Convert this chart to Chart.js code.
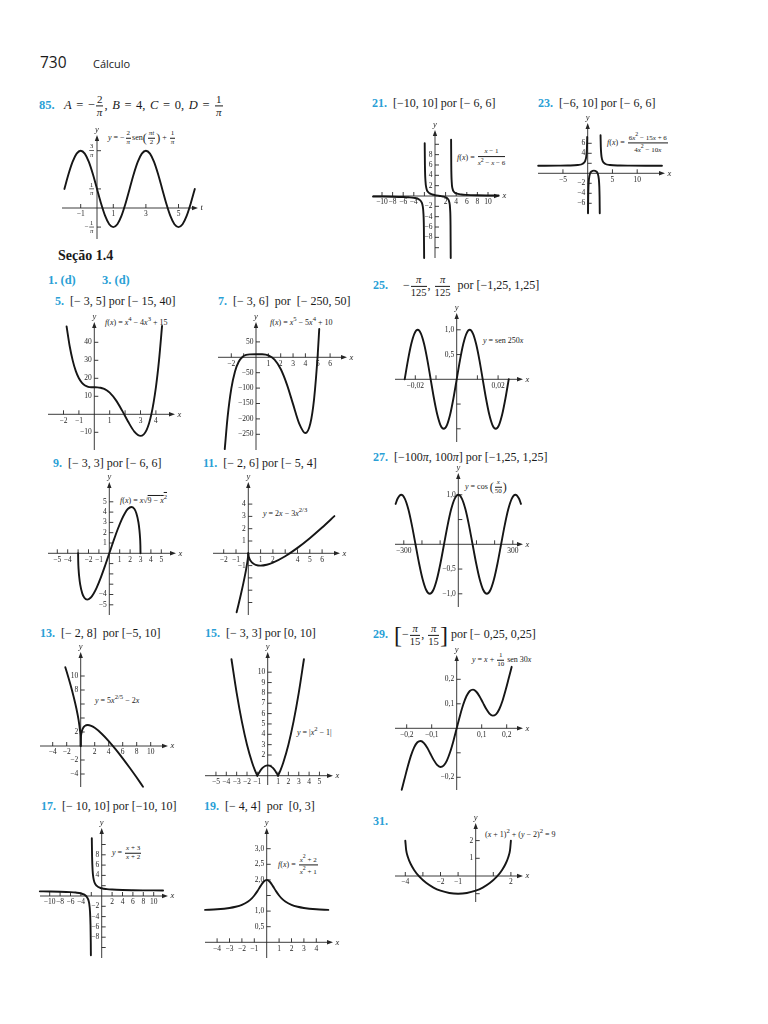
<!DOCTYPE html>
<html lang="pt">
<head>
<meta charset="utf-8">
<title>730 Cálculo</title>
<script src="https://cdn.jsdelivr.net/npm/chart.js@4.4.1/dist/chart.umd.min.js"></script>
<style>
  body { margin:0; width:768px; height:1024px; position:relative; overflow:hidden; background:#fff; color:#1a1a1a; font-family:"Liberation Serif","DejaVu Serif",serif; }
  .t { position:absolute; white-space:nowrap; font-size:12px; line-height:1.1; transform:translateY(-50%); }
  .n { color:#2a9fd6; font-weight:bold; }
  .f { position:absolute; white-space:nowrap; font-size:8px; line-height:1.05; transform:translateY(-50%); }
  .fr { display:inline-block; vertical-align:middle; text-align:center; font-size:0.88em; margin:0 1px; }
  .fr > span { display:block; line-height:1.1; }
  .fr > span:first-child { border-bottom:0.8px solid currentColor; padding:0 1px; }
  .big { font-size:2em; vertical-align:middle; font-weight:lighter; line-height:1; }
  .pp { font-size:1.5em; vertical-align:middle; line-height:1; }
  .hd { position:absolute; font-family:"Open Sans","DejaVu Sans",sans-serif; transform:translateY(-50%); white-space:nowrap; }
  canvas { position:absolute; }
</style>
</head>
<body>
<div class="hd" style="left:40px;top:62px;font-size:15.5px">730</div>
<div class="hd" style="left:93px;top:63px;font-size:11px">Cálculo</div>

<!-- titles -->
<div class="t" style="left:39px;top:106px;font-size:12.5px;word-spacing:1.5px"><span class="n">85.</span>&nbsp; <i>A</i> = −<span class="fr"><span>2</span><span><i>π</i></span></span>, <i>B</i> = 4, <i>C</i> = 0, <i>D</i> = <span class="fr"><span>1</span><span><i>π</i></span></span></div>
<div class="t" style="left:372px;top:104px"><span class="n">21.</span>&nbsp; [−10, 10] por [− 6, 6]</div>
<div class="t" style="left:538px;top:104px"><span class="n">23.</span>&nbsp; [−6, 10] por [− 6, 6]</div>
<div class="t" style="left:58px;top:256px;font-size:14px;font-weight:bold">Seção 1.4</div>
<div class="t" style="left:48px;top:281px;font-size:12.5px"><span class="n">1. (d)</span></div>
<div class="t" style="left:102px;top:281px;font-size:12.5px"><span class="n">3. (d)</span></div>
<div class="t" style="left:55px;top:302px"><span class="n">5.</span>&nbsp; [− 3, 5] por [− 15, 40]</div>
<div class="t" style="left:218px;top:302px"><span class="n">7.</span>&nbsp; [− 3, 6]&nbsp; por&nbsp; [− 250, 50]</div>
<div class="t" style="left:373px;top:286px"><span class="n">25.</span>&nbsp;&nbsp;&nbsp;&nbsp; −<span class="fr"><span><i>π</i></span><span>125</span></span>, <span class="fr"><span><i>π</i></span><span>125</span></span>&nbsp; por [−1,25, 1,25]</div>
<div class="t" style="left:53px;top:464px"><span class="n">9.</span>&nbsp; [− 3, 3] por [− 6, 6]</div>
<div class="t" style="left:203px;top:464px"><span class="n">11.</span>&nbsp; [− 2, 6] por [− 5, 4]</div>
<div class="t" style="left:373px;top:458px"><span class="n">27.</span>&nbsp; [−100<i>π</i>, 100<i>π</i>] por [−1,25, 1,25]</div>
<div class="t" style="left:40px;top:634px"><span class="n">13.</span>&nbsp; [− 2, 8]&nbsp; por [−5, 10]</div>
<div class="t" style="left:205px;top:634px"><span class="n">15.</span>&nbsp; [− 3, 3] por [0, 10]</div>
<div class="t" style="left:373px;top:635px"><span class="n">29.</span>&nbsp; <span class="big">[</span>−<span class="fr"><span><i>π</i></span><span>15</span></span>, <span class="fr"><span><i>π</i></span><span>15</span></span><span class="big">]</span> por [− 0,25, 0,25]</div>
<div class="t" style="left:41px;top:807px"><span class="n">17.</span>&nbsp; [− 10, 10] por [−10, 10]</div>
<div class="t" style="left:204px;top:807px"><span class="n">19.</span>&nbsp; [− 4, 4]&nbsp; por&nbsp; [0, 3]</div>
<div class="t" style="left:373px;top:822px"><span class="n">31.</span></div>

<!-- formula labels -->
<div class="f" style="left:108px;top:138px"><i>y</i> = −<span class="fr"><span>2</span><span><i>π</i></span></span>sen<span class="pp">(</span><span class="fr"><span><i>πt</i></span><span>2</span></span><span class="pp">)</span> + <span class="fr"><span>1</span><span><i>π</i></span></span></div>
<div class="f" style="left:457px;top:158px"><i>f</i>(<i>x</i>) = <span class="fr"><span><i>x</i> − 1</span><span><i>x</i><sup>2</sup> − <i>x</i> − 6</span></span></div>
<div class="f" style="left:607px;top:143px"><i>f</i>(<i>x</i>) = <span class="fr"><span>6<i>x</i><sup>2</sup> − 15<i>x</i> + 6</span><span>4<i>x</i><sup>2</sup> − 10<i>x</i></span></span></div>
<div class="f" style="left:105px;top:321px"><i>f</i>(<i>x</i>) = <i>x</i><sup>4</sup> − 4<i>x</i><sup>3</sup> + 15</div>
<div class="f" style="left:270px;top:321px"><i>f</i>(<i>x</i>) = <i>x</i><sup>5</sup> − 5<i>x</i><sup>4</sup> + 10</div>
<div class="f" style="left:483px;top:341px"><i>y</i> = sen 250<i>x</i></div>
<div class="f" style="left:120px;top:499px"><i>f</i>(<i>x</i>) = <i>x</i>√<span style="text-decoration:overline">9 − <i>x</i><sup>2</sup></span></div>
<div class="f" style="left:263px;top:512px"><i>y</i> = 2<i>x</i> − 3<i>x</i><sup>2/3</sup></div>
<div class="f" style="left:465px;top:487px"><i>y</i> = cos <span class="pp">(</span><span class="fr"><span><i>x</i></span><span>50</span></span><span class="pp">)</span></div>
<div class="f" style="left:95px;top:699px"><i>y</i> = 5<i>x</i><sup>2/5</sup> − 2<i>x</i></div>
<div class="f" style="left:297px;top:731px"><i>y</i> = |<i>x</i><sup>2</sup> − 1|</div>
<div class="f" style="left:472px;top:660px"><i>y</i> = <i>x</i> + <span class="fr"><span>1</span><span>10</span></span> sen 30<i>x</i></div>
<div class="f" style="left:112px;top:853px"><i>y</i> = <span class="fr"><span><i>x</i> + 3</span><span><i>x</i> + 2</span></span></div>
<div class="f" style="left:278px;top:865px"><i>f</i>(<i>x</i>) = <span class="fr"><span><i>x</i><sup>2</sup> + 2</span><span><i>x</i><sup>2</sup> + 1</span></span></div>
<div class="f" style="left:485px;top:833px">(<i>x</i> + 1)<sup>2</sup> + (<i>y</i> − 2)<sup>2</sup> = 9</div>

<script>
// curves, one array per branch: [x, y]
const c85 = [[-2,0.318],[-1.75,0.562],[-1.5,0.768],[-1.25,0.906],[-1,0.955],[-0.75,0.906],[-0.5,0.768],[-0.25,0.562],[0,0.318],[0.25,0.075],[0.5,-0.132],[0.75,-0.27],[1,-0.318],[1.25,-0.27],[1.5,-0.132],[1.75,0.075],[2,0.318],[2.25,0.562],[2.5,0.768],[2.75,0.906],[3,0.955],[3.25,0.906],[3.5,0.768],[3.75,0.562],[4,0.318],[4.25,0.075],[4.5,-0.132],[4.75,-0.27],[5,-0.318],[5.25,-0.27],[5.5,-0.132],[5.75,0.075],[6,0.318]];
const t85x = [-1, 1, 3, 5];
const l85x = ['−1', '1', '3', '5'];
const t85y = [0.955, 0.318, -0.318];
const l85y = [{ n: '3', d: 'π' }, { n: '1', d: 'π' }, { n: '1', d: 'π', neg: true }];

const c21a = [[-11.7,-0.089],[-10,-0.106],[-8,-0.136],[-6,-0.194],[-5,-0.25],[-4,-0.357],[-3,-0.667],[-2.5,-1.273],[-2.3,-2.075],[-2.2,-3.08],[-2.1,-6.08],[-2.05,-12]];
const c21b = [[-1.942,10.2],[-1.9,5.92],[-1.8,2.92],[-1.6,1.413],[-1.3,0.764],[-1,0.5],[-0.5,0.286],[0,0.167],[0.5,0.08],[1,0],[1.5,-0.095],[2,-0.25],[2.4,-0.53],[2.7,-1.206],[2.85,-2.54],[2.93,-5.59],[2.967,-12]];
const c21c = [[3.037,10.9],[3.07,5.83],[3.15,2.78],[3.3,1.447],[3.6,0.774],[4,0.5],[5,0.286],[6,0.208],[8,0.14],[10,0.107],[12,0.087]];
const t21x = [-10, -8, -6, -4, -2, 2, 4, 6, 8, 10];
const l21x = ['−10', '−8', '−6', '−4', '', '2', '4', '6', '8', '10'];
const t21y = [-10, -8, -6, -4, -2, 2, 4, 6, 8, 10];
const l21y = ['', '−8', '−6', '−4', '−2', '2', '4', '6', '8', ''];

const c23a = [[-10,1.512],[-6,1.529],[-4,1.558],[-2,1.667],[-1,1.929],[-0.5,2.5],[-0.3,3.286],[-0.2,4.278],[-0.15,5.27],[-0.12,6.27],[-0.1,7.27]];
const c23b = [[0.065,-8],[0.1,-4.75],[0.15,-2.755],[0.25,-1.167],[0.5,0],[0.75,0.357],[1,0.5],[1.25,0.54],[1.5,0.5],[1.75,0.357],[2,0],[2.25,-1.167],[2.35,-2.755],[2.4,-4.75],[2.435,-8]];
const c23c = [[2.595,7.6],[2.65,5.27],[2.7,4.278],[2.8,3.286],[3,2.5],[3.5,1.929],[4.5,1.667],[6.5,1.558],[8.5,1.529],[12.5,1.512],[15,1.508]];
const t23x = [-5, 5, 10];
const l23x = ['−5', '5', '10'];
const t23y = [-6, -4, -2, 2, 4, 6];
const l23y = ['−6', '−4', '−2', '', '4', '6'];

const c5 = [[-1.8,48.83],[-1.6,37.94],[-1.4,29.82],[-1.2,23.99],[-1,20],[-0.8,17.46],[-0.6,15.99],[-0.4,15.28],[-0.2,15.03],[0,15],[0.2,14.97],[0.4,14.77],[0.6,14.27],[0.8,13.36],[1,12],[1.4,7.87],[1.8,2.17],[2.2,-4.16],[2.6,-9.6],[3,-12],[3.4,-8.6],[3.7,-0.2],[4,15],[4.2,29.8],[4.4,49.1]];
const t5x = [-2, -1, 1, 2, 3, 4];
const l5x = ['−2', '−1', '1', '', '3', '4'];
const t5y = [-10, 10, 20, 30, 40];
const l5y = ['−10', '10', '20', '30', '40'];

const c7 = [[-2.53,-298],[-2.3,-194.3],[-2,-102],[-1.7,-45.96],[-1.4,-14.59],[-1.1,1.07],[-0.8,7.62],[-0.5,9.66],[0,10],[0.5,9.72],[1,6],[1.5,-7.72],[2,-38],[2.5,-87.7],[3,-152],[3.5,-215.1],[4,-246],[4.4,-214.9],[4.7,-136.3],[5,10],[5.12,92]];
const t7x = [-2, -1, 1, 2, 3, 4, 5, 6];
const l7x = ['−2', '', '1', '2', '3', '4', '5', '6'];
const t7y = [-250, -200, -150, -100, -50, 50];
const l7y = ['−250', '−200', '−150', '−100', '−50', '50'];

const c25 = [[-0.02513,0],[-0.02356,0.383],[-0.02199,0.707],[-0.02042,0.924],[-0.01885,1],[-0.01728,0.924],[-0.01571,0.707],[-0.01414,0.383],[-0.01257,0],[-0.011,-0.383],[-0.00942,-0.707],[-0.00785,-0.924],[-0.00628,-1],[-0.00471,-0.924],[-0.00314,-0.707],[-0.00157,-0.383],[0,0],[0.00157,0.383],[0.00314,0.707],[0.00471,0.924],[0.00628,1],[0.00785,0.924],[0.00942,0.707],[0.011,0.383],[0.01257,0],[0.01414,-0.383],[0.01571,-0.707],[0.01728,-0.924],[0.01885,-1],[0.02042,-0.924],[0.02199,-0.707],[0.02356,-0.383],[0.02513,0]];
const t25x = [-0.02, -0.01, 0.01, 0.02];
const l25x = ['−0,02', '', '', '0,02'];
const t25y = [-1, -0.5, 0.5, 1];
const l25y = ['', '', '0,5', '1,0'];

const c27 = [[-345,0.815],[-333.8,0.924],[-314.2,1],[-294.5,0.924],[-274.9,0.707],[-255.3,0.383],[-235.6,0],[-216,-0.383],[-196.3,-0.707],[-176.7,-0.924],[-157.1,-1],[-137.4,-0.924],[-117.8,-0.707],[-98.2,-0.383],[-78.5,0],[-58.9,0.383],[-39.3,0.707],[-19.6,0.924],[0,1],[19.6,0.924],[39.3,0.707],[58.9,0.383],[78.5,0],[98.2,-0.383],[117.8,-0.707],[137.4,-0.924],[157.1,-1],[176.7,-0.924],[196.3,-0.707],[216,-0.383],[235.6,0],[255.3,0.383],[274.9,0.707],[294.5,0.924],[314.2,1],[333.8,0.924],[345,0.815]];
const t27x = [-300, -200, -100, 100, 200, 300];
const l27x = ['−300', '', '', '', '', '300'];
const t27y = [-1, -0.5, 0.5, 1];
const l27y = ['−1,0', '−0,5', '', '1,0'];

const c9 = [[-3,0],[-2.99,-0.732],[-2.95,-1.609],[-2.9,-2.228],[-2.8,-3.016],[-2.6,-3.891],[-2.4,-4.32],[-2.12,-4.5],[-1.8,-4.32],[-1.5,-3.897],[-1.2,-3.3],[-0.8,-2.313],[-0.4,-1.189],[0,0],[0.4,1.189],[0.8,2.313],[1.2,3.3],[1.5,3.897],[1.8,4.32],[2.12,4.5],[2.4,4.32],[2.6,3.891],[2.8,3.016],[2.9,2.228],[2.95,1.609],[2.99,0.732],[3,0]];
const t9x = [-5, -4, -3, -2, -1, 1, 2, 3, 4, 5];
const l9x = ['−5', '−4', '', '−2', '−1', '1', '2', '3', '4', '5'];
const t9y = [-5, -4, -3, -2, -1, 1, 2, 3, 4, 5];
const l9y = ['−5', '−4', '', '', '', '1', '2', '3', '4', '5'];

const c11a = [[-0.95,-4.8],[-0.8,-4.185],[-0.6,-3.334],[-0.4,-2.429],[-0.2,-1.426],[-0.1,-0.846],[-0.03,-0.35],[0,0]];
const c11b = [[0,0],[0.03,-0.23],[0.1,-0.446],[0.2,-0.626],[0.4,-0.829],[0.6,-0.934],[1,-1],[1.5,-0.931],[2,-0.762],[3,-0.24],[4,0.441],[5,1.228],[6,2.094],[7,3.022]];
const t11x = [-2, -1, 1, 2, 3, 4, 5, 6];
const l11x = ['−2', '−1', '1', '2', '', '4', '5', '6'];
const t11y = [-4, -3, -2, -1, 1, 2, 3, 4];
const l11y = ['', '', '', '−1', '1', '2', '3', '4'];

const c13a = [[-2.2,11.25],[-2,10.6],[-1.5,8.88],[-1,7],[-0.6,5.276],[-0.3,3.689],[-0.1,2.19],[-0.02,1.086],[0,0]];
const c13b = [[0,0],[0.02,1.006],[0.1,1.79],[0.3,2.489],[0.6,2.876],[1,3],[1.5,2.88],[2,2.597],[3,1.759],[4,0.706],[5,-0.482],[6,-1.762],[7,-3.11],[8,-4.51],[8.9,-5.81]];
const t13x = [-4, -2, 2, 4, 6, 8, 10];
const l13x = ['−4', '−2', '2', '4', '6', '8', '10'];
const t13y = [-4, -2, 2, 4, 6, 8, 10];
const l13y = ['−4', '−2', '2', '', '', '8', '10'];

const c15a = [[-3.5,11.25],[-3,8],[-2.5,5.25],[-2,3],[-1.5,1.25],[-1.25,0.5625],[-1,0]];
const c15b = [[-1,0],[-0.75,0.4375],[-0.5,0.75],[-0.25,0.9375],[0,1],[0.25,0.9375],[0.5,0.75],[0.75,0.4375],[1,0]];
const c15c = [[1,0],[1.25,0.5625],[1.5,1.25],[2,3],[2.5,5.25],[3,8],[3.5,11.25]];
const t15x = [-5, -4, -3, -2, -1, 1, 2, 3, 4, 5];
const l15x = ['−5', '−4', '−3', '−2', '−1', '1', '2', '3', '4', '5'];
const t15y = [1, 2, 3, 4, 5, 6, 7, 8, 9, 10];
const l15y = ['', '2', '3', '4', '5', '6', '7', '8', '9', '10'];

const c29 = [[-0.22,-0.251],[-0.2094,-0.2094],[-0.1963,-0.158],[-0.1833,-0.1126],[-0.1702,-0.0778],[-0.1571,-0.0571],[-0.144,-0.0516],[-0.1309,-0.0602],[-0.1178,-0.0795],[-0.1047,-0.1047],[-0.0916,-0.1299],[-0.0785,-0.1492],[-0.0654,-0.1578],[-0.0524,-0.1524],[-0.0393,-0.1317],[-0.0262,-0.0969],[-0.0131,-0.0514],[0,0],[0.0131,0.0514],[0.0262,0.0969],[0.0393,0.1317],[0.0524,0.1524],[0.0654,0.1578],[0.0785,0.1492],[0.0916,0.1299],[0.1047,0.1047],[0.1178,0.0795],[0.1309,0.0602],[0.144,0.0516],[0.1571,0.0571],[0.1702,0.0778],[0.1833,0.1126],[0.1963,0.158],[0.2094,0.2094],[0.22,0.251]];
const t29x = [-0.2, -0.1, 0.1, 0.2];
const l29x = ['−0,2', '−0,1', '0,1', '0,2'];
const t29y = [-0.2, -0.1, 0.1, 0.2];
const l29y = ['−0,2', '', '0,1', '0,2'];

const c17a = [[-11.9,0.899],[-10,0.875],[-8,0.833],[-6,0.75],[-5,0.667],[-4,0.5],[-3,0],[-2.6,-0.667],[-2.4,-1.5],[-2.25,-3],[-2.15,-5.667],[-2.1,-9],[-2.08,-11.5]];
const c17b = [[-1.902,11.2],[-1.85,7.667],[-1.75,5],[-1.6,3.5],[-1.4,2.667],[-1,2],[0,1.5],[1,1.333],[2,1.25],[4,1.167],[6,1.125],[8,1.1],[10,1.083],[11.8,1.072]];
const t17x = [-10, -8, -6, -4, -2, 2, 4, 6, 8, 10];
const l17x = ['−10', '−8', '−6', '−4', '', '2', '4', '6', '8', '10'];
const t17y = [-10, -8, -6, -4, -2, 2, 4, 6, 8, 10];
const l17y = ['', '−8', '−6', '−4', '−2', '', '4', '6', '8', ''];

const c19 = [[-4.97,1.039],[-4,1.059],[-3,1.1],[-2.5,1.138],[-2,1.2],[-1.5,1.308],[-1.2,1.41],[-1,1.5],[-0.75,1.64],[-0.5,1.8],[-0.25,1.941],[0,2],[0.25,1.941],[0.5,1.8],[0.75,1.64],[1,1.5],[1.2,1.41],[1.5,1.308],[2,1.2],[2.5,1.138],[3,1.1],[4,1.059],[4.97,1.039]];
const t19x = [-4, -3, -2, -1, 1, 2, 3, 4];
const l19x = ['−4', '−3', '−2', '−1', '1', '2', '3', '4'];
const t19y = [0.5, 1, 1.5, 2, 2.5, 3];
const l19y = ['0,5', '1,0', '', '2,0', '2,5', '3,0'];

const c31 = [[-4,2],[-3.95,1.455],[-3.85,1.063],[-3.7,0.692],[-3.5,0.342],[-3.2,-0.04],[-2.8,-0.4],[-2.4,-0.653],[-2,-0.828],[-1.5,-0.958],[-1,-1],[-0.5,-0.958],[0,-0.828],[0.4,-0.653],[0.8,-0.4],[1.2,-0.04],[1.5,0.342],[1.7,0.692],[1.85,1.063],[1.95,1.455],[2,2]];
const t31x = [-4, -3, -2, -1, 1, 2];
const l31x = ['−4', '', '−2', '−1', '', '2'];
const t31y = [-1, 1, 2];
const l31y = ['', '1', '2'];

// where each little plot sits on the page: axis ends (L,R,T,B), origin (ox,oy), px per unit (ux,uy)
const graphs = [
  { L: 62, R: 198, T: 135, B: 239, ox: 97, oy: 208, ux: 16.3, uy: 60, curves: [c85], xt: t85x, xl: l85x, yt: t85y, yl: l85y, xName: 't' },
  { L: 373, R: 500, T: 130, B: 258, ox: 435, oy: 196, ux: 5.3, uy: 5.17, curves: [c21a, c21b, c21c], xt: t21x, xl: l21x, yt: t21y, yl: l21y },
  { L: 538, R: 665, T: 123, B: 213, ox: 587.7, oy: 173.3, ux: 4.95, uy: 5, curves: [c23a, c23b, c23c], xt: t23x, xl: l23x, yt: t23y, yl: l23y },
  { L: 48, R: 175, T: 322, B: 450, ox: 94.3, oy: 414.3, ux: 15.4, uy: 1.8, curves: [c5], xt: t5x, xl: l5x, yt: t5y, yl: l5y },
  { L: 218, R: 347, T: 322, B: 450, ox: 256, oy: 357.3, ux: 12.35, uy: 0.308, curves: [c7], xt: t7x, xl: l7x, yt: t7y, yl: l7y },
  { L: 395, R: 523, T: 313, B: 442, ox: 456.7, oy: 379.3, ux: 2070, uy: 49.5, curves: [c25], xt: t25x, xl: l25x, yt: t25y, yl: l25y },
  { L: 48, R: 176, T: 482, B: 615, ox: 109.3, oy: 553.3, ux: 10.4, uy: 10.3, curves: [c9], xt: t9x, xl: l9x, yt: t9y, yl: l9y },
  { L: 213, R: 340, T: 482, B: 615, ox: 248.3, oy: 553.3, ux: 12.3, uy: 12.3, curves: [c11a, c11b], xt: t11x, xl: l11x, yt: t11y, yl: l11y },
  { L: 395, R: 523, T: 473, B: 607, ox: 458.3, oy: 544.3, ux: 0.1817, uy: 49.5, curves: [c27], xt: t27x, xl: l27x, yt: t27y, yl: l27y },
  { L: 40, R: 168, T: 652, B: 787, ox: 80.7, oy: 746, ux: 7, uy: 7, curves: [c13a, c13b], xt: t13x, xl: l13x, yt: t13y, yl: l13y },
  { L: 205, R: 333, T: 652, B: 785, ox: 267.7, oy: 775.7, ux: 10.35, uy: 10.35, curves: [c15a, c15b, c15c], xt: t15x, xl: l15x, yt: t15y, yl: l15y },
  { L: 395, R: 523, T: 655, B: 790, ox: 456.7, oy: 728.3, ux: 250, uy: 245, curves: [c29], xt: t29x, xl: l29x, yt: t29y, yl: l29y },
  { L: 40, R: 168, T: 828, B: 958, ox: 101.7, oy: 896, ux: 5.2, uy: 5.15, curves: [c17a, c17b], xt: t17x, xl: l17x, yt: t17y, yl: l17y },
  { L: 205, R: 333, T: 828, B: 958, ox: 266.7, oy: 942.3, ux: 12.4, uy: 31.2, curves: [c19], xt: t19x, xl: l19x, yt: t19y, yl: l19y },
  { L: 395, R: 523, T: 823, B: 902, ox: 475.7, oy: 876, ux: 17.6, uy: 17.7, curves: [c31], xt: t31x, xl: l31x, yt: t31y, yl: l31y }
];

const INK = '#262626';
const SERIF = '"Liberation Serif", "DejaVu Serif", serif';

function drawFrac(ctx, lab, x, y) {
  ctx.save();
  ctx.font = `6.5px ${SERIF}`;
  const w = Math.max(ctx.measureText(lab.n).width, ctx.measureText(lab.d).width) + 1.5;
  const cx = x - w / 2;
  ctx.textAlign = 'center';
  ctx.fillText(lab.n, cx, y - 4);
  ctx.font = `italic 6.5px ${SERIF}`;
  ctx.fillText(lab.d, cx, y + 4.2);
  ctx.fillRect(cx - w / 2, y - 0.4, w, 0.7);
  if (lab.neg) {
    ctx.textAlign = 'right';
    ctx.font = `7px ${SERIF}`;
    ctx.fillText('−', cx - w / 2 - 0.5, y);
  }
  ctx.restore();
}

// axes crossing at the origin, like the textbook figures
function zeroAxes(g) {
  return {
    id: 'zeroAxes',
    beforeDatasetsDraw(chart) {
      const { ctx, chartArea: a, scales: { x, y } } = chart;
      const x0 = x.getPixelForValue(0);
      const y0 = y.getPixelForValue(0);
      ctx.save();
      ctx.strokeStyle = INK;
      ctx.fillStyle = INK;
      ctx.lineWidth = 0.9;
      ctx.beginPath();
      ctx.moveTo(a.left, y0); ctx.lineTo(a.right - 3, y0);
      ctx.moveTo(x0, a.bottom); ctx.lineTo(x0, a.top + 3);
      g.xt.forEach(v => {
        const px = x.getPixelForValue(v);
        ctx.moveTo(px, y0); ctx.lineTo(px, y0 - 4);
      });
      g.yt.forEach(v => {
        const py = y.getPixelForValue(v);
        ctx.moveTo(x0, py); ctx.lineTo(x0 + 4, py);
      });
      ctx.stroke();

      ctx.beginPath();
      ctx.moveTo(a.right, y0); ctx.lineTo(a.right - 6, y0 - 2.2); ctx.lineTo(a.right - 6, y0 + 2.2); ctx.closePath();
      ctx.moveTo(x0, a.top); ctx.lineTo(x0 - 2.2, a.top + 6); ctx.lineTo(x0 + 2.2, a.top + 6); ctx.closePath();
      ctx.fill();

      ctx.font = `italic 8.5px ${SERIF}`;
      ctx.textBaseline = 'middle';
      ctx.textAlign = 'left';
      ctx.fillText(g.xName || 'x', a.right + 2.5, y0);
      ctx.textAlign = 'center';
      ctx.fillText('y', x0, a.top - 5);

      ctx.font = `7.5px ${SERIF}`;
      ctx.textBaseline = 'top';
      g.xt.forEach((v, i) => {
        if (g.xl[i]) ctx.fillText(g.xl[i], x.getPixelForValue(v), y0 + 2.5);
      });
      ctx.textBaseline = 'middle';
      ctx.textAlign = 'right';
      g.yt.forEach((v, i) => {
        const lab = g.yl[i];
        if (!lab) return;
        const py = y.getPixelForValue(v);
        if (typeof lab === 'string') ctx.fillText(lab, x0 - 2.5, py);
        else drawFrac(ctx, lab, x0 - 3, py);
      });
      ctx.restore();
    }
  };
}

function makeGraph(g) {
  const P = 16;
  const c = document.createElement('canvas');
  c.width = Math.round(g.R - g.L + 2 * P);
  c.height = Math.round(g.B - g.T + 2 * P);
  c.style.left = (g.L - P) + 'px';
  c.style.top = (g.T - P) + 'px';
  document.body.appendChild(c);

  new Chart(c, {
    type: 'scatter',
    data: {
      datasets: g.curves.map(cv => ({
        data: cv.map(p => ({ x: p[0], y: p[1] })),
        showLine: true,
        borderColor: '#161616',
        borderWidth: 1.9,
        pointRadius: 0,
        cubicInterpolationMode: 'monotone',
        borderCapStyle: 'round',
        clip: false
      }))
    },
    options: {
      responsive: false,
      animation: false,
      events: [],
      layout: {
        padding: {
          left: P, top: P,
          right: c.width - P - (g.R - g.L),
          bottom: c.height - P - (g.B - g.T)
        }
      },
      scales: {
        x: { type: 'linear', display: false, min: (g.L - g.ox) / g.ux, max: (g.R - g.ox) / g.ux },
        y: { type: 'linear', display: false, min: (g.oy - g.B) / g.uy, max: (g.oy - g.T) / g.uy }
      },
      plugins: { legend: { display: false }, tooltip: { enabled: false } }
    },
    plugins: [zeroAxes(g)]
  });
}

graphs.forEach(makeGraph);
</script>
</body>
</html>
